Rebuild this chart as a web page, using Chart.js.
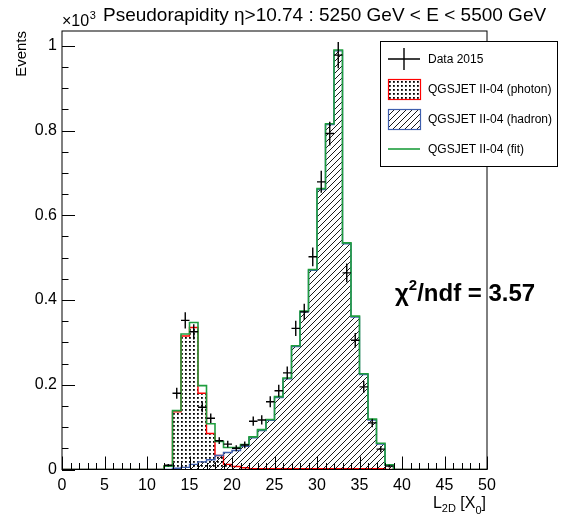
<!DOCTYPE html>
<html>
<head>
<meta charset="utf-8">
<title>L2D distribution</title>
<script src="https://cdn.jsdelivr.net/npm/chart.js@4.4.1/dist/chart.umd.min.js"></script>
<style>
  html, body { margin: 0; padding: 0; background: #ffffff; }
  #wrap { width: 561px; height: 525px; }
  canvas { display: block; }
</style>
</head>
<body>
<div id="wrap"><canvas id="histChart" width="561" height="525"></canvas></div>
<script>
  // ========== DATA ==========
  const binEdges = [0, 1, 2, 3, 4, 5, 6, 7, 8, 9, 10, 11, 12, 13, 14, 15, 16, 17, 18, 19, 20,
    21, 22, 23, 24, 25, 26, 27, 28, 29, 30, 31, 32, 33, 34, 35, 36, 37, 38, 39, 40,
    41, 42, 43, 44, 45, 46, 47, 48, 49, 50];

  // one value per bin (0-1, 1-2, ... 49-50)
  const photonCounts = [0, 0, 0, 0, 0, 0, 0, 0, 0, 0, 0, 0, 8, 136, 315, 335, 180, 85, 33, 12,
    7, 4, 2, 2, 2, 2, 2, 2, 2, 2, 2, 2, 2, 2, 2, 2, 2, 2, 0, 0,
    0, 0, 0, 0, 0, 0, 0, 0, 0, 0];
  const hadronCounts = [0, 0, 0, 0, 0, 0, 0, 0, 0, 0, 0, 0, 0, 3, 5, 12, 18, 23, 33, 40,
    45, 55, 75, 92, 116, 170, 214, 290, 372, 470, 661, 814, 988, 533, 360, 224, 117, 60, 10, 0,
    0, 0, 0, 0, 0, 0, 0, 0, 0, 0];
  const fitCounts = [0, 0, 0, 0, 0, 0, 0, 0, 0, 0, 0, 0, 8, 139, 320, 347, 198, 108, 66, 52,
    52, 59, 77, 94, 118, 172, 216, 292, 374, 472, 663, 816, 990, 535, 362, 226, 119, 62, 11, 0,
    0, 0, 0, 0, 0, 0, 0, 0, 0, 0];

  const dataCenters = [12.5, 13.5, 14.5, 15.5, 16.5, 17.5, 18.5, 19.5, 20.5, 21.5, 22.5, 23.5, 24.5,
    25.5, 26.5, 27.5, 28.5, 29.5, 30.5, 31.5, 32.5, 33.5, 34.5, 35.5, 36.5, 37.5, 38.5];
  const dataCounts = [10, 180, 352, 325, 147, 121, 68, 60, 50, 58, 114, 117, 160,
    186, 228, 333, 372, 502, 679, 793, 978, 464, 305, 195, 110, 48, 8];
  const dataErrors = [3, 13, 19, 18, 12, 11, 8, 8, 7, 8, 11, 11, 13,
    14, 15, 18, 19, 22, 26, 28, 31, 22, 17, 14, 10, 7, 3];

  const xMajorTicks = [0, 5, 10, 15, 20, 25, 30, 35, 40, 45, 50];
  const yMajorTicks = [0, 200, 400, 600, 800, 1000];
  const xMinorStep = 1;
  const yMinorStep = 50;
  const yMax = 1035;

  const photonRed = '#ff0000';
  const hadronBlue = '#3f5fae';
  const fitGreen = '#1f9e3e';
  const FONT = "'Liberation Sans', Arial, Helvetica, sans-serif";

  Chart.defaults.font.family = FONT;
  Chart.defaults.color = '#000';

  // ========== FILL PATTERNS ==========
  function makeDotPattern() {
    const tile = document.createElement('canvas');
    tile.width = 4; tile.height = 4;
    const t = tile.getContext('2d');
    t.fillStyle = '#000';
    t.fillRect(1, 1, 1.8, 1.8);
    return t.createPattern(tile, 'repeat');
  }

  function makeHatchPattern() {
    const s = 6;
    const tile = document.createElement('canvas');
    tile.width = s; tile.height = s;
    const t = tile.getContext('2d');
    t.strokeStyle = '#000';
    t.lineWidth = 0.9;
    t.beginPath();
    t.moveTo(0, s); t.lineTo(s, 0);
    t.moveTo(-1, 1); t.lineTo(1, -1);
    t.moveTo(s - 1, s + 1); t.lineTo(s + 1, s - 1);
    t.stroke();
    return t.createPattern(tile, 'repeat');
  }

  const dotFill = makeDotPattern();
  const hatchFill = makeHatchPattern();

  function histPoints(counts) {
    return binEdges.map((e, i) => ({ x: e, y: counts[Math.min(i, counts.length - 1)] }));
  }

  // ========== ROOT-STYLE DECORATION ==========
  function drawCross(ctx, x1, x2, xc, yc, y1, y2) {
    ctx.beginPath();
    ctx.moveTo(x1, yc); ctx.lineTo(x2, yc);
    ctx.moveTo(xc, y1); ctx.lineTo(xc, y2);
    ctx.stroke();
  }

  const rootStyle = {
    id: 'rootStyle',
    afterDatasetsDraw(chart) {
      const ctx = chart.ctx;
      const xs = chart.scales.x, ys = chart.scales.y;
      const a = chart.chartArea;

      // data points with error bars
      ctx.save();
      ctx.strokeStyle = '#000';
      ctx.lineWidth = 1.4;
      dataCenters.forEach((c, i) => {
        const px = xs.getPixelForValue(c);
        const py = ys.getPixelForValue(dataCounts[i]);
        drawCross(ctx,
          xs.getPixelForValue(c - 0.5), xs.getPixelForValue(c + 0.5), px, py,
          ys.getPixelForValue(dataCounts[i] - dataErrors[i]), ys.getPixelForValue(dataCounts[i] + dataErrors[i]));
      });
      ctx.restore();

      // frame
      ctx.save();
      ctx.strokeStyle = '#000';
      ctx.lineWidth = 1;
      ctx.strokeRect(a.left, a.top, a.right - a.left, a.bottom - a.top);

      // ticks pointing inwards
      ctx.beginPath();
      for (let v = 0; v <= 50; v += xMinorStep) {
        const px = Math.round(xs.getPixelForValue(v)) + 0.5;
        const len = xMajorTicks.includes(v) ? 13 : 6.5;
        ctx.moveTo(px, a.bottom); ctx.lineTo(px, a.bottom - len);
      }
      for (let v = 0; v <= yMax; v += yMinorStep) {
        const py = Math.round(ys.getPixelForValue(v)) + 0.5;
        const len = yMajorTicks.includes(v) ? 13 : 6.5;
        ctx.moveTo(a.left, py); ctx.lineTo(a.left + len, py);
      }
      ctx.stroke();
      ctx.restore();
    },
    afterDraw(chart) {
      const ctx = chart.ctx;
      const a = chart.chartArea;
      ctx.save();
      ctx.fillStyle = '#000';
      ctx.textBaseline = 'alphabetic';

      // title
      ctx.font = '19px ' + FONT;
      ctx.textAlign = 'left';
      ctx.fillText('Pseudorapidity \u03b7>10.74 : 5250 GeV < E < 5500 GeV', 103, 21);

      // exponent label
      ctx.font = '16px ' + FONT;
      ctx.fillText('\u00d710', a.left, 26);
      const w10 = ctx.measureText('\u00d710').width;
      ctx.font = '11px ' + FONT;
      ctx.fillText('3', a.left + w10 + 0.5, 19);

      // y title
      ctx.save();
      ctx.translate(26, a.top);
      ctx.rotate(-Math.PI / 2);
      ctx.font = '15px ' + FONT;
      ctx.textAlign = 'right';
      ctx.fillText('Events', 0, 0);
      ctx.restore();

      // x title: L_2D [X_0]
      const parts = [['L', 16, 0], ['2D', 11, 4], [' [X', 16, 0], ['0', 11, 6], [']', 16, 0]];
      let total = 0;
      parts.forEach(p => { ctx.font = p[1] + 'px ' + FONT; total += ctx.measureText(p[0]).width; });
      let x = a.right - 1 - total;
      parts.forEach(p => {
        ctx.font = p[1] + 'px ' + FONT;
        ctx.fillText(p[0], x, 508 + p[2]);
        x += ctx.measureText(p[0]).width;
      });

      // chi2 text
      const chiSize = 24;
      ctx.font = 'bold ' + chiSize + 'px ' + FONT;
      ctx.fillText('\u03c7', 395, 301);
      let cx = 395 + ctx.measureText('\u03c7').width;
      ctx.font = 'bold 15px ' + FONT;
      ctx.fillText('2', cx, 290);
      cx += ctx.measureText('2').width;
      ctx.font = 'bold ' + chiSize + 'px ' + FONT;
      ctx.fillText('/ndf = 3.57', cx, 301);

      // legend
      const lx = 380.5, ly = 41.5, lw = 177, lh = 125;
      ctx.fillStyle = '#fff';
      ctx.fillRect(lx, ly, lw, lh);
      ctx.strokeStyle = '#000';
      ctx.lineWidth = 1;
      ctx.strokeRect(lx, ly, lw, lh);

      const sx1 = 388, sx2 = 420, tx = 428;
      const rows = [59, 89, 119, 149];

      ctx.lineWidth = 1.4;
      drawCross(ctx, sx1, sx2, (sx1 + sx2) / 2, rows[0], rows[0] - 11, rows[0] + 11);

      ctx.fillStyle = dotFill;
      ctx.fillRect(sx1, rows[1] - 10, sx2 - sx1, 20);
      ctx.strokeStyle = photonRed; ctx.lineWidth = 1.2;
      ctx.strokeRect(sx1 + 0.5, rows[1] - 10 + 0.5, sx2 - sx1, 20);

      ctx.fillStyle = hatchFill;
      ctx.fillRect(sx1, rows[2] - 10, sx2 - sx1, 20);
      ctx.strokeStyle = hadronBlue;
      ctx.strokeRect(sx1 + 0.5, rows[2] - 10 + 0.5, sx2 - sx1, 20);

      ctx.strokeStyle = fitGreen; ctx.lineWidth = 1.6;
      ctx.beginPath(); ctx.moveTo(sx1, rows[3]); ctx.lineTo(sx2, rows[3]); ctx.stroke();

      ctx.fillStyle = '#000';
      ctx.font = '12px ' + FONT;
      ctx.textBaseline = 'middle';
      const labels = ['Data 2015', 'QGSJET II-04 (photon)', 'QGSJET II-04 (hadron)', 'QGSJET II-04 (fit)'];
      labels.forEach((t, i) => ctx.fillText(t, tx, rows[i] + 1));

      ctx.restore();
    }
  };

  // ========== CHART ==========
  const ctx = document.getElementById('histChart').getContext('2d');
  const histChart = new Chart(ctx, {
    type: 'line',
    data: {
      datasets: [
        { label: 'Data 2015', type: 'scatter', data: dataCenters.map((c, i) => ({ x: c, y: dataCounts[i] })),
          pointRadius: 0, showLine: false, order: 1 },
        { label: 'QGSJET II-04 (fit)', data: histPoints(fitCounts), borderColor: fitGreen, borderWidth: 1.6,
          stepped: true, fill: false, pointRadius: 0, order: 2 },
        { label: 'QGSJET II-04 (hadron)', data: histPoints(hadronCounts), borderColor: hadronBlue, borderWidth: 1.4,
          backgroundColor: hatchFill, stepped: true, fill: 'origin', pointRadius: 0, order: 3 },
        { label: 'QGSJET II-04 (photon)', data: histPoints(photonCounts), borderColor: photonRed, borderWidth: 1.4,
          backgroundColor: dotFill, stepped: true, fill: 'origin', pointRadius: 0, order: 4 }
      ]
    },
    options: {
      responsive: false,
      animation: false,
      devicePixelRatio: 1,
      layout: { padding: { left: 0, right: 74, top: 31, bottom: 0 } },
      plugins: { legend: { display: false }, tooltip: { enabled: false }, title: { display: false } },
      scales: {
        x: {
          type: 'linear', min: 0, max: 50,
          grid: { display: false, tickLength: 0 }, border: { display: false },
          afterBuildTicks: s => { s.ticks = xMajorTicks.map(v => ({ value: v })); },
          afterFit: s => { s.height = 55.5; },
          ticks: { padding: 6, font: { size: 16 }, color: '#000', maxRotation: 0, autoSkip: false }
        },
        y: {
          type: 'linear', min: 0, max: yMax,
          grid: { display: false, tickLength: 0 }, border: { display: false },
          afterBuildTicks: s => { s.ticks = yMajorTicks.map(v => ({ value: v })); },
          afterFit: s => { s.width = 62; },
          ticks: { padding: 5, font: { size: 16 }, color: '#000', autoSkip: false,
                   callback: v => String(v / 1000) }
        }
      }
    },
    plugins: [rootStyle]
  });
</script>
</body>
</html>
